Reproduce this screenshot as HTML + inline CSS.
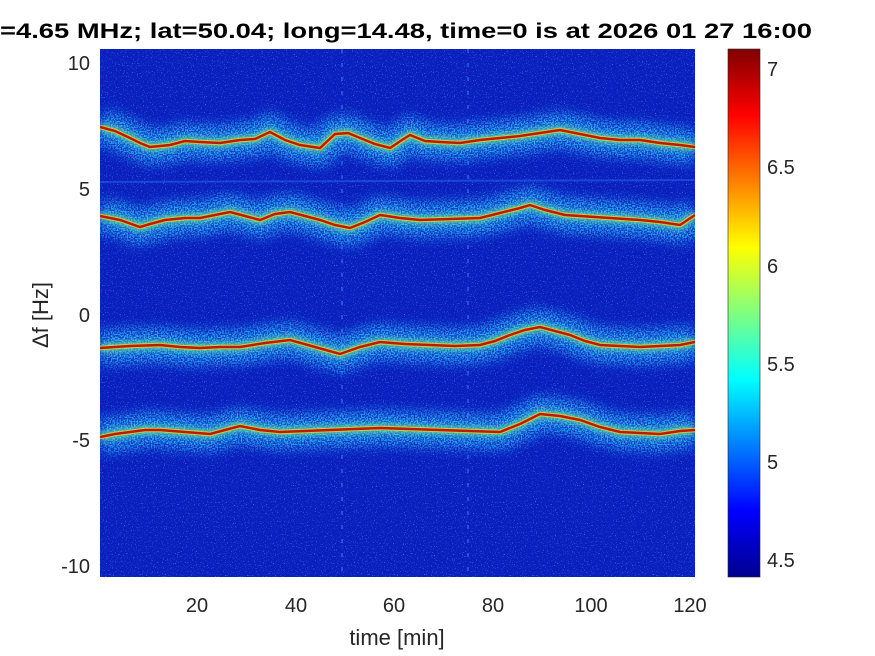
<!DOCTYPE html>
<html><head><meta charset="utf-8"><style>
html,body{margin:0;padding:0;background:#fff;width:875px;height:656px;overflow:hidden}
text{font-family:"Liberation Sans",Arial,sans-serif;fill:#262626}
</style></head><body>
<svg width="875" height="656" viewBox="0 0 875 656" xmlns="http://www.w3.org/2000/svg">
<defs>
<linearGradient id="jet" x1="0" y1="1" x2="0" y2="0">
<stop offset="0" stop-color="#00008f"/><stop offset="0.125" stop-color="#0000ff"/>
<stop offset="0.375" stop-color="#00ffff"/><stop offset="0.625" stop-color="#ffff00"/>
<stop offset="0.875" stop-color="#ff0000"/><stop offset="1" stop-color="#800000"/>
</linearGradient>
<filter id="b6" x="-5%" y="-50%" width="110%" height="200%"><feGaussianBlur stdDeviation="7"/></filter>
<filter id="b3" x="-5%" y="-50%" width="110%" height="200%"><feGaussianBlur stdDeviation="3"/></filter>
<filter id="speck" x="-5%" y="-50%" width="110%" height="200%">
<feGaussianBlur in="SourceGraphic" stdDeviation="6" result="g"/>
<feTurbulence type="fractalNoise" baseFrequency="0.7" numOctaves="1" seed="7" result="n"/>
<feColorMatrix in="n" type="matrix" values="0 0 0 0 1  0 0 0 0 1  0 0 0 0 1  0 0 0 4 -1.6" result="m"/>
<feComposite in="g" in2="m" operator="in"/>
</filter>
<filter id="noise" x="0" y="0" width="100%" height="100%">
<feTurbulence type="fractalNoise" baseFrequency="0.9" numOctaves="1" seed="3"/>
<feColorMatrix type="matrix" values="0 0 0 0 0.2  0 0 0 0 0.6  0 0 0 0 1  0 0 0 6 -3.7"/>
</filter>
<clipPath id="pc"><rect x="100" y="49" width="595" height="528"/></clipPath>
</defs>
<g clip-path="url(#pc)">
<rect x="100" y="49" width="595" height="528" fill="#0a1fbe"/>
<rect x="100" y="49" width="595" height="528" filter="url(#noise)" opacity="0.6"/>
<line x1="100" y1="182" x2="695" y2="180" stroke="#2a6aee" stroke-width="2" opacity="0.5"/>
<line x1="342" y1="49" x2="342" y2="577" stroke="#3070f0" stroke-width="2" stroke-dasharray="4 10" opacity="0.6"/>
<line x1="468" y1="49" x2="468" y2="577" stroke="#3070f0" stroke-width="2" stroke-dasharray="4 10" opacity="0.6"/>
<g fill="none" stroke-linejoin="round">
<g id="bands">
<polyline points="100,127 115,131 130,138 140,143 150,147 170,145 185,141 200,142 220,143 240,140 255,139 270,132 285,140 300,145 320,148 335,134 348,133 360,138 375,144 390,148 402,140 410,135 425,141 440,142 460,143 480,140 500,138 520,136 540,133 560,130 580,134 600,138 620,140 640,140 660,143 680,145 695,147"/>
<polyline points="100,216 120,220 140,227 150,224 165,220 185,218 200,218 215,215 230,212 245,216 260,220 275,214 290,212 305,216 320,220 335,225 350,228 365,222 380,215 400,218 420,220 450,219 480,218 500,213 520,208 530,205 545,210 565,215 580,216 610,218 640,220 660,222 680,225 695,215"/>
<polyline points="100,348 130,346 160,345 180,347 200,348 220,347 240,347 265,343 290,340 315,347 340,354 360,347 380,342 405,344 430,345 455,346 480,345 495,341 510,335 525,330 540,327 555,331 570,335 585,341 600,345 620,346 640,347 660,346 680,345 695,342"/>
<polyline points="100,437 115,434 130,432 145,430 160,430 185,432 210,434 225,430 240,426 260,430 280,432 305,431 330,430 355,429 380,428 410,429 440,430 470,431 500,432 520,424 540,414 560,416 580,420 600,427 620,432 640,433 660,434 680,431 695,430"/>
</g>
</g>
<use href="#bands" stroke="#30d0ff" stroke-width="36" opacity="0.9" filter="url(#speck)" fill="none"/>
<use href="#bands" stroke="#20a8f0" stroke-width="22" opacity="0.35" filter="url(#b6)" fill="none"/>
<use href="#bands" stroke="#70e890" stroke-width="9" opacity="0.7" filter="url(#b3)" fill="none"/>
<use href="#bands" stroke="#e8d020" stroke-width="4.5" opacity="0.8" fill="none"/>
<use href="#bands" stroke="#c01808" stroke-width="2.5" fill="none"/>
</g>
<g font-size="20" text-anchor="end">
<text x="90" y="70">10</text><text x="90" y="196">5</text><text x="90" y="322">0</text>
<text x="90" y="447">-5</text><text x="90" y="573">-10</text>
</g>
<g font-size="20" text-anchor="middle">
<text x="197" y="612">20</text><text x="296" y="612">40</text><text x="394" y="612">60</text>
<text x="493" y="612">80</text><text x="591" y="612">100</text><text x="690" y="612">120</text>
</g>
<text x="397" y="645" font-size="22" text-anchor="middle">time [min]</text>
<text transform="translate(48,315) rotate(-90)" font-size="22" text-anchor="middle">Δf [Hz]</text>
<text x="0" y="38" font-size="21" font-weight="bold" textLength="812" lengthAdjust="spacingAndGlyphs" style="fill:#000">=4.65 MHz;  lat=50.04; long=14.48, time=0 is at 2026 01 27 16:00</text>
<rect x="728" y="49" width="32" height="528" fill="url(#jet)"/>
<rect x="728" y="49" width="32" height="528" fill="none" stroke="#262626" stroke-width="0.6"/>
<g font-size="20">
<text x="767" y="76">7</text><text x="767" y="174">6.5</text><text x="767" y="273">6</text>
<text x="767" y="371">5.5</text><text x="767" y="469">5</text><text x="767" y="567">4.5</text>
</g>
</svg>
</body></html>
